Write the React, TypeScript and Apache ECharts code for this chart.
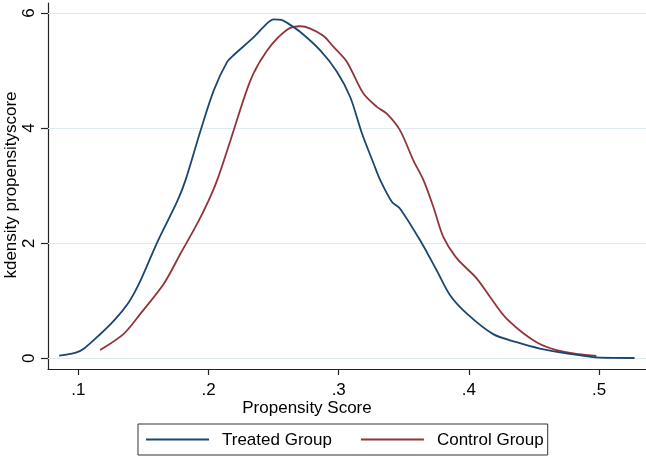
import React, { useEffect, useRef } from "react";
import * as echarts from "echarts";

const treatedX = [0.0853, 0.0981, 0.1044, 0.1159, 0.1275, 0.1389, 0.1479, 0.1607, 0.1760, 0.1824, 0.1939, 0.2041, 0.2143, 0.2194, 0.2347, 0.2450, 0.2500, 0.2560, 0.2603, 0.2705, 0.2858, 0.2986, 0.3088, 0.3178, 0.3267, 0.3318, 0.3408, 0.3471, 0.3625, 0.3752, 0.3854, 0.3982, 0.4186, 0.4366, 0.4544, 0.4749, 0.5004, 0.5272];
const treatedY = [0.045, 0.097, 0.17, 0.40, 0.66, 0.98, 1.36, 2.02, 2.73, 3.10, 3.96, 4.66, 5.15, 5.27, 5.58, 5.82, 5.89, 5.88, 5.83, 5.67, 5.35, 4.98, 4.54, 3.91, 3.39, 3.10, 2.72, 2.60, 2.05, 1.53, 1.10, 0.78, 0.42, 0.28, 0.17, 0.087, 0.01, 0.005];

const controlX = [0.1167, 0.1351, 0.1479, 0.1658, 0.1785, 0.1913, 0.2002, 0.2067, 0.2169, 0.2322, 0.2450, 0.2603, 0.2705, 0.2782, 0.2884, 0.2960, 0.3063, 0.3190, 0.3293, 0.3369, 0.3471, 0.3573, 0.3650, 0.3727, 0.3803, 0.3906, 0.4059, 0.4161, 0.4289, 0.4519, 0.4723, 0.4979];
const controlY = [0.144, 0.43, 0.78, 1.30, 1.82, 2.34, 2.75, 3.10, 3.79, 4.83, 5.35, 5.71, 5.77, 5.73, 5.60, 5.41, 5.15, 4.60, 4.37, 4.25, 3.96, 3.44, 3.10, 2.63, 2.11, 1.74, 1.39, 1.07, 0.69, 0.28, 0.115, 0.04];

const xTicks = [0.1, 0.2, 0.3, 0.4, 0.5];
const yTicks = [0, 2, 4, 6];
const seriesNames = ["Treated Group", "Control Group"];
const xTitle = "Propensity Score";
const yTitle = "kdensity propensityscore";

const FONT = "'Liberation Sans', Arial, sans-serif";
const FS = 17;
const BLUE = "#1a476f";
const RED = "#90353b";

export default function App() {
  const ref = useRef<HTMLDivElement>(null);
  useEffect(() => {
    if (!ref.current) return;
    const chart = echarts.init(ref.current, undefined, { renderer: "svg" });
    const zip = (xs: number[], ys: number[]) => xs.map((x, i) => [x, ys[i]]);
    chart.setOption({
      animation: false,
      textStyle: { fontFamily: FONT },
      grid: { left: 48, right: 0, top: 3, bottom: 89, containLabel: false },
      xAxis: {
        type: "value",
        min: 0.0767,
        max: 0.536,
        axisLine: { show: true, onZero: false, lineStyle: { color: "#222", width: 1.2 } },
        axisTick: { show: true, customValues: xTicks, length: 6, lineStyle: { color: "#222", width: 1.2 } },
        axisLabel: {
          customValues: xTicks,
          formatter: (v: number) => String(v).replace(/^0/, ""),
          fontSize: FS,
          color: "#000",
          margin: 12,
          fontFamily: FONT,
        },
        splitLine: { show: false },
      },
      yAxis: {
        type: "value",
        min: -0.186,
        max: 6.174,
        axisLine: { show: true, onZero: false, lineStyle: { color: "#222", width: 1.2 } },
        axisTick: { show: true, customValues: yTicks, length: 7, lineStyle: { color: "#222", width: 1.2 } },
        axisLabel: {
          customValues: yTicks,
          rotate: 90,
          fontSize: FS,
          color: "#000",
          margin: 11,
          fontFamily: FONT,
        },
        splitLine: { show: false },
      },
      legend: {
        left: 138,
        top: 424,
        orient: "horizontal",
        icon: "rect",
        itemWidth: 63,
        itemHeight: 2,
        itemGap: 29,
        padding: [7, 4, 7, 8],
        borderColor: "#333",
        borderWidth: 1,
        textStyle: { fontSize: FS, color: "#000", fontFamily: FONT, padding: [0, 0, 0, 8] },
        data: seriesNames,
      },
      graphic: [
        {
          type: "text",
          x: 10,
          y: 185,
          rotation: Math.PI / 2,
          style: {
            text: yTitle,
            fontSize: FS,
            fontFamily: FONT,
            fill: "#000",
            align: "center",
            verticalAlign: "middle",
          },
        },
        {
          type: "text",
          x: 307,
          y: 407,
          style: {
            text: xTitle,
            fontSize: FS,
            fontFamily: FONT,
            fill: "#000",
            align: "center",
            verticalAlign: "middle",
          },
        },
      ],
      series: [
        {
          name: seriesNames[0],
          type: "line",
          data: zip(treatedX, treatedY),
          showSymbol: false,
          symbol: "none",
          smooth: 0.3,
          lineStyle: { color: BLUE, width: 1.8 },
          itemStyle: { color: BLUE },
          z: 3,
          markLine: {
            silent: true,
            symbol: "none",
            label: { show: false },
            lineStyle: { color: "#e1ebef", width: 1, type: "solid" },
            data: yTicks.map((v) => ({ yAxis: v })),
            z: 1,
          },
        },
        {
          name: seriesNames[1],
          type: "line",
          data: zip(controlX, controlY),
          showSymbol: false,
          symbol: "none",
          smooth: 0.3,
          lineStyle: { color: RED, width: 1.8 },
          itemStyle: { color: RED },
          z: 2,
        },
      ],
    });
    return () => chart.dispose();
  }, []);
  return (
    <div
      ref={ref}
      style={{ position: "fixed", left: 0, top: 0, width: 646, height: 458 }}
    />
  );
}
